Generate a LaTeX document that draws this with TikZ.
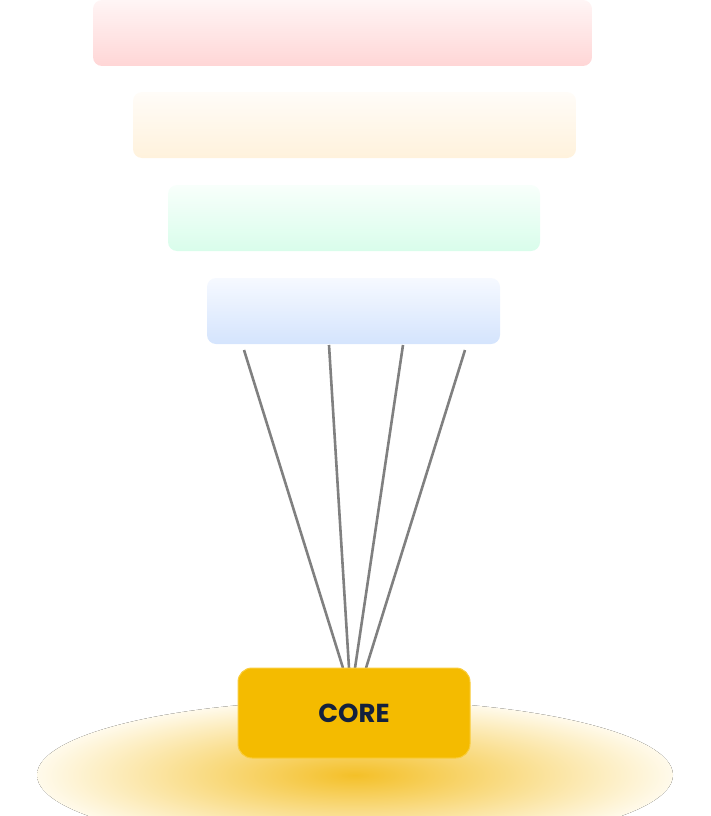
\documentclass[tikz,border=0pt]{standalone}
\usepackage{fontspec}
\setmainfont{Poppins}
\begin{document}
\begin{tikzpicture}[x=1pt,y=-1pt,
  layer/.style={rounded corners=9pt,draw=none},
  wire/.style={draw={rgb,255:red,128;green,128;blue,128},line width=2.6pt}]
\useasboundingbox (0,0) rectangle (710,816);
% glow
\begin{scope}
\clip (0,0) rectangle (710,816);
\fill[inner color={rgb,255:red,244;green,192;blue,40},outer color={rgb,255:red,255;green,250;blue,235}]
  (355,775) ellipse [x radius=318,y radius=75];
\end{scope}
\definecolor{rA}{RGB}{255,245,245}\definecolor{rB}{RGB}{255,214,214}
\definecolor{oA}{RGB}{255,252,248}\definecolor{oB}{RGB}{255,242,220}
\definecolor{gA}{RGB}{248,255,251}\definecolor{gB}{RGB}{217,253,235}
\definecolor{bA}{RGB}{246,249,255}\definecolor{bB}{RGB}{212,228,253}
\path[layer,top color=rA,bottom color=rB] (93,0) rectangle (592,66) coordinate (l1);
\path[layer,top color=oA,bottom color=oB] (133,92) rectangle (576,158) coordinate (l2);
\path[layer,top color=gA,bottom color=gB] (168,185) rectangle (540,251) coordinate (l3);
\path[layer,top color=bA,bottom color=bB] (207,278) rectangle (500,344) coordinate (l4);
\coordinate (s1) at (244,350);\coordinate (s2) at (329,345);
\coordinate (s3) at (403,345);\coordinate (s4) at (465,350);
\coordinate (e1) at (343,668);\coordinate (e2) at (349,668);
\coordinate (e3) at (355,668);\coordinate (e4) at (366,668);
\draw[wire] (s1)--(e1); \draw[wire] (s2)--(e2);
\draw[wire] (s3)--(e3); \draw[wire] (s4)--(e4);
\node[draw={rgb,255:red,250;green,205;blue,60},line width=1pt,fill={rgb,255:red,244;green,187;blue,0},rounded corners=14pt,minimum width=232pt,minimum height=90pt,inner sep=0pt,
  text={rgb,255:red,20;green,33;blue,61},font=\fontsize{26}{26}\selectfont\bfseries] (core) at (354,713) {\raisebox{-3pt}{CORE}};
\end{tikzpicture}
\end{document}
